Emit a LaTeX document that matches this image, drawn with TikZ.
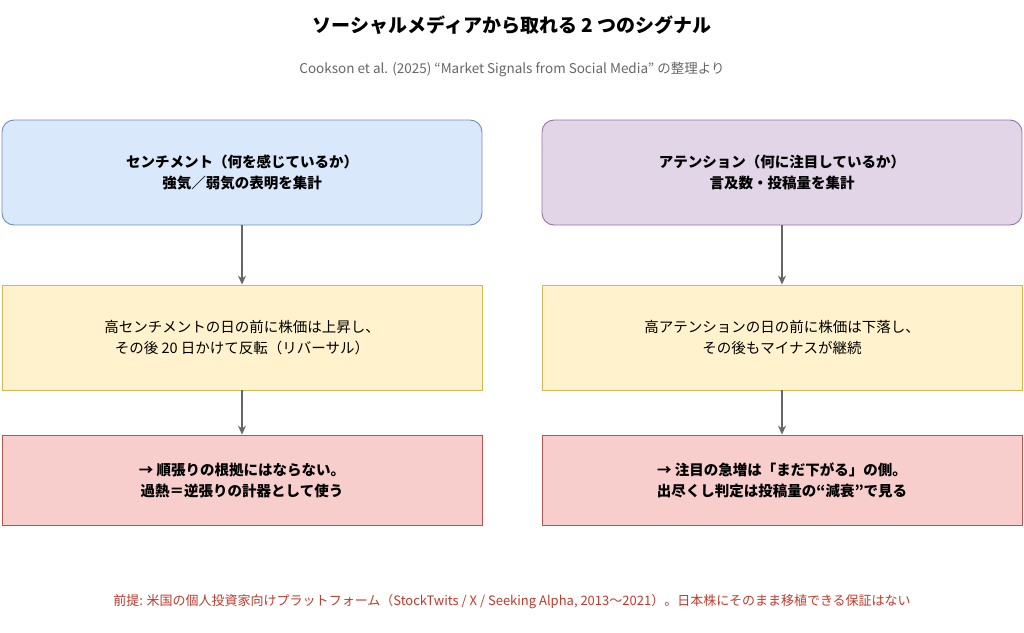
\documentclass[tikz,border=0pt]{standalone}
\usepackage{fontspec}
\setmainfont{Noto Sans CJK JP}
\usetikzlibrary{arrows.meta}
\definecolor{bF}{HTML}{DAE8FC}\definecolor{bD}{HTML}{6C8EBF}
\definecolor{pF}{HTML}{E1D5E7}\definecolor{pD}{HTML}{9673A6}
\definecolor{yF}{HTML}{FFF2CC}\definecolor{yD}{HTML}{D6B656}
\definecolor{rF}{HTML}{F8CECC}\definecolor{rD}{HTML}{B85450}
\definecolor{gT}{HTML}{666666}\definecolor{fT}{HTML}{C0392B}
\begin{document}
\begin{tikzpicture}[x=1pt,y=-1pt,
 box/.style={draw,line width=0.9pt,minimum width=480pt,align=center,inner sep=0pt,font=\fontsize{14.5}{21}\selectfont},
 arr/.style={draw=gT,line width=1.1pt,-{Stealth[length=9pt,width=8pt]}}]
\useasboundingbox (0,0) rectangle (1024,632);
\node[font=\fontsize{19}{22}\selectfont\bfseries] (t) at (512,25) {ソーシャルメディアから取れる 2 つのシグナル};
\node[text=gT,font=\fontsize{13.5}{16}\selectfont] (s) at (512,70) {Cookson et al. (2025) “Market Signals from Social Media” の整理より};
\node[box,fill=bF,draw=bD,rounded corners=12pt,minimum height=105pt,font=\fontsize{14.5}{21}\selectfont\bfseries] (a1) at (242,172.5) {センチメント（何を感じているか）\\強気／弱気の表明を集計};
\node[box,fill=yF,draw=yD,minimum height=105pt] (a2) at (242,337.5) {高センチメントの日の前に株価は上昇し、\\その後 20 日かけて反転（リバーサル）};
\node[box,fill=rF,draw=rD,minimum height=90pt,font=\fontsize{14.5}{21}\selectfont\bfseries] (a3) at (242,480) {→ 順張りの根拠にはならない。\\過熱＝逆張りの計器として使う};
\node[box,fill=pF,draw=pD,rounded corners=12pt,minimum height=105pt,font=\fontsize{14.5}{21}\selectfont\bfseries] (b1) at (782,172.5) {アテンション（何に注目しているか）\\言及数・投稿量を集計};
\node[box,fill=yF,draw=yD,minimum height=105pt] (b2) at (782,337.5) {高アテンションの日の前に株価は下落し、\\その後もマイナスが継続};
\node[box,fill=rF,draw=rD,minimum height=90pt,font=\fontsize{14.5}{21}\selectfont\bfseries] (b3) at (782,480) {→ 注目の急増は「まだ下がる」の側。\\出尽くし判定は投稿量の“減衰”で見る};
\draw[arr] (a1) -- (a2); \draw[arr] (a2) -- (a3);
\draw[arr] (b1) -- (b2); \draw[arr] (b2) -- (b3);
\node[text=fT,font=\fontsize{13}{16}\selectfont] (f) at (512,602) {前提: 米国の個人投資家向けプラットフォーム（StockTwits / X / Seeking Alpha, 2013〜2021）。日本株にそのまま移植できる保証はない};
\end{tikzpicture}
\end{document}
